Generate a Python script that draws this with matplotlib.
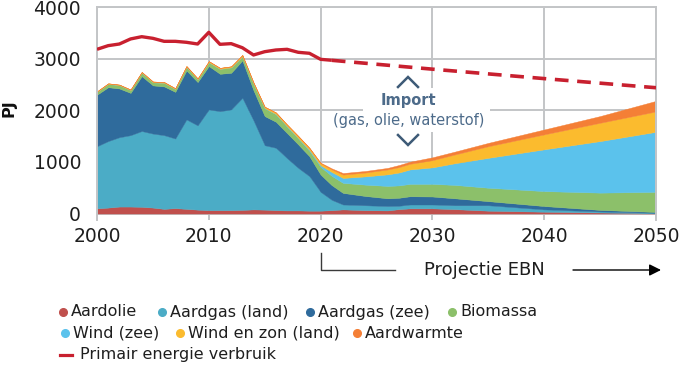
import matplotlib
matplotlib.use("Agg")
import matplotlib.pyplot as plt
from matplotlib.lines import Line2D
from matplotlib.patches import Rectangle, FancyArrowPatch

plt.rcParams['font.family'] = ['DejaVu Sans']

# ---------------- data ----------------
years = [2000, 2001, 2002, 2003, 2004, 2005, 2006, 2007, 2008, 2009, 2010,
         2011, 2012, 2013, 2014, 2015, 2016, 2017, 2018, 2019, 2020,
         2021, 2022, 2024, 2026, 2027, 2028, 2030, 2032, 2035, 2040, 2045, 2050]

aardolie = [100, 115, 135, 135, 130, 115, 90, 105, 90, 75, 65,
            65, 65, 70, 80, 75, 65, 60, 60, 55, 55,
            65, 80, 65, 60, 85, 100, 100, 85, 55, 35, 20, 5]
aardgas_land = [1205, 1290, 1345, 1385, 1470, 1435, 1430, 1350, 1735, 1635, 1955,
                1920, 1955, 2175, 1725, 1250, 1210, 1015, 825, 670, 365,
                200, 95, 95, 85, 65, 75, 75, 75, 105, 45, 20, 10]
aardgas_zee = [1000, 1045, 945, 820, 1065, 935, 945, 905, 950, 840, 840,
               725, 710, 725, 585, 565, 505, 485, 455, 385, 335,
               285, 225, 180, 150, 155, 160, 155, 135, 80, 65, 30, 15]
biomassa = [55, 65, 65, 55, 70, 60, 70, 55, 70, 55, 75,
            95, 105, 80, 125, 150, 145, 125, 115, 105, 150,
            180, 195, 220, 240, 240, 240, 245, 260, 260, 290, 335, 390]
wind_zee = [0, 0, 0, 0, 0, 0, 0, 0, 0, 0, 0,
            0, 0, 0, 0, 5, 5, 10, 10, 20, 30,
            75, 95, 160, 225, 250, 280, 320, 420, 580, 810, 1000, 1165]
wind_zon_land = [10, 10, 10, 10, 10, 15, 15, 15, 15, 15, 20,
                 20, 20, 25, 25, 25, 30, 30, 35, 35, 40,
                 50, 65, 75, 95, 105, 110, 140, 170, 225, 290, 355, 395]
aardwarmte = [0, 0, 0, 0, 0, 0, 0, 0, 0, 0, 0,
              0, 0, 0, 0, 0, 0, 0, 5, 5, 10,
              20, 30, 30, 30, 40, 40, 55, 55, 65, 95, 130, 205]

verbruik_years = list(range(2000, 2022))
verbruik = [3185, 3256, 3288, 3386, 3430, 3398, 3340, 3340, 3321, 3288, 3515,
            3282, 3295, 3216, 3075, 3139, 3172, 3185, 3127, 3108, 2991, 2972]
verbruik_proj_years = [2021, 2030, 2040, 2050]
verbruik_proj = [2972, 2800, 2617, 2440]

series_names = ["Aardolie", "Aardgas (land)", "Aardgas (zee)", "Biomassa",
                "Wind (zee)", "Wind en zon (land)", "Aardwarmte"]
colors = ["#c0504d", "#4bacc6", "#2f6b9c", "#8cc06a",
          "#5bc2ec", "#fbbb2e", "#f47f36"]
line_color = "#c8202f"
x_ticks = [2000, 2010, 2020, 2030, 2040, 2050]
y_ticks = [0, 1000, 2000, 3000, 4000]

# ---------------- figure ----------------
W, H = 680, 369
fig = plt.figure(figsize=(W / 100, H / 100), dpi=100)
ax_l, ax_r, ax_t, ax_b = 97, 656, 7.3, 219.7
ax = fig.add_axes([ax_l / W, 1 - ax_b / H, (ax_r - ax_l) / W, (ax_b - ax_t) / H])

grid_c = "#c3c5c7"
ax.stackplot(years, aardolie, aardgas_land, aardgas_zee, biomassa, wind_zee,
             wind_zon_land, aardwarmte, colors=colors, linewidth=0.3,
             edgecolor='face', zorder=2)
ax.plot(verbruik_years, verbruik, color=line_color, lw=2.4, zorder=4,
        solid_capstyle='butt', solid_joinstyle='round')
ax.plot(verbruik_proj_years, verbruik_proj, color=line_color, lw=2.6,
        ls=(0, (3.8, 2.4)), zorder=4)

ax.set_xlim(2000, 2050)
ax.set_ylim(-120, 4000)
ax.set_xticks(x_ticks)
ax.set_yticks(y_ticks)
ax.set_yticklabels([str(v) for v in y_ticks])
ax.grid(True, color=grid_c, lw=1.4, zorder=0)
ax.set_axisbelow(True)
for s in ["left", "right", "top"]:
    ax.spines[s].set_color(grid_c)
    ax.spines[s].set_linewidth(1.4)
ax.spines["bottom"].set_visible(False)
ax.tick_params(axis='both', length=0, labelsize=13.5, colors="#1e1e1e")
ax.tick_params(axis='x', pad=5)
ax.tick_params(axis='y', pad=11.5)

# y label
fig.text(9 / W, 1 - 108 / H, "PJ", rotation=90, ha='center', va='center',
         fontsize=11.5, fontweight='bold', color="#111111")


def fx(px):
    return (px - ax_l) / (ax_r - ax_l)


def fy(py):
    return (ax_b - py) / (ax_b - ax_t)


# Import annotation (white box, text, chevrons)
ax.add_patch(Rectangle((fx(363), fy(132)), fx(490) - fx(363), fy(88) - fy(132),
                       transform=ax.transAxes, facecolor='white',
                       edgecolor='none', zorder=1.5))
txt_c = "#4d6b8a"
ax.text(fx(408), fy(101), "Import", transform=ax.transAxes, ha='center',
        va='center', fontsize=10.5, fontweight='bold', color=txt_c, zorder=5)
ax.text(fx(408.5), fy(121), "(gas, olie, waterstof)", transform=ax.transAxes,
        ha='center', va='center', fontsize=10.5, color=txt_c, zorder=5)
chev_c = "#3e5b77"
ax.plot([fx(398), fx(408), fx(418)], [fy(87), fy(77), fy(87)],
        transform=ax.transAxes, color=chev_c, lw=1.8, zorder=5,
        solid_joinstyle='miter', clip_on=False)
ax.plot([fx(398), fx(408), fx(418)], [fy(135), fy(145), fy(135)],
        transform=ax.transAxes, color=chev_c, lw=1.8, zorder=5,
        solid_joinstyle='miter', clip_on=False)


def gx(px):
    return px / W


def gy(py):
    return 1 - py / H


# Projectie EBN bracket and arrow
fig.add_artist(Line2D([gx(321), gx(321), gx(395)], [gy(253), gy(270), gy(270)],
                      color="#3a3a3a", lw=1.0))
fig.text(gx(484), gy(270), "Projectie EBN", ha='center', va='center',
         fontsize=13, color="#1e1e1e")
fig.add_artist(FancyArrowPatch((gx(573), gy(270)), (gx(661), gy(270)),
                               transform=fig.transFigure,
                               arrowstyle='-|>,head_length=7,head_width=3.5',
                               color="black", lw=1.0, shrinkA=0, shrinkB=0))

# Legend (manual flow layout)
leg_items = [
    (0, 63, 312), (1, 162, 312), (2, 310, 312), (3, 452, 312),
    (4, 65, 333), (5, 180, 333), (6, 357, 333),
]
for idx, x, y in leg_items:
    fig.add_artist(Line2D([gx(x)], [gy(y)], marker='o', markersize=5.5,
                          color=colors[idx], lw=0))
    fig.text(gx(x + 8), gy(y), series_names[idx], ha='left', va='center',
             fontsize=11.5, color="#1e1e1e")
fig.add_artist(Line2D([gx(60), gx(72)], [gy(355), gy(355)], color=line_color,
                      lw=2.3))
fig.text(gx(80), gy(355), "Primair energie verbruik", ha='left', va='center',
         fontsize=11.5, color="#1e1e1e")

fig.savefig("out.png", dpi=100)
